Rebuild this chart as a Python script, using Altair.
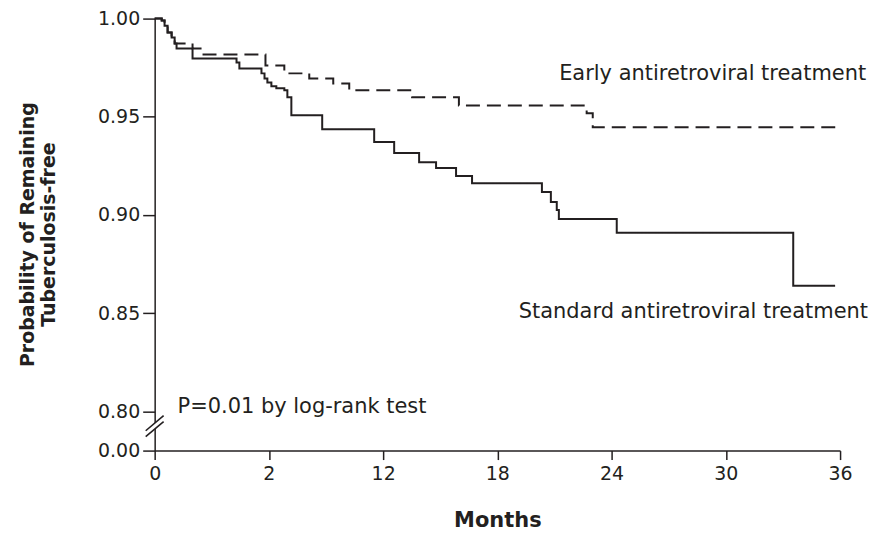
import altair as alt
import pandas as pd

# Kaplan-Meier step data (months, probability)
std_t = [0, 0.37, 0.52, 0.68, 0.89, 1.05, 1.15, 1.99, 4.30, 4.45, 5.61, 5.77, 5.92, 6.13, 6.39,
         6.81, 6.97, 7.18, 8.80, 11.53, 12.58, 13.89, 14.78, 15.83, 16.67, 20.34, 20.81, 21.12,
         21.23, 24.27, 33.54, 35.74]
std_s = [1.000, 0.999, 0.9964, 0.9929, 0.9904, 0.9873, 0.9848, 0.9797, 0.9777, 0.9746, 0.9721,
         0.9695, 0.9675, 0.9655, 0.9645, 0.9635, 0.9599, 0.9508, 0.9437, 0.9371, 0.9315, 0.9269,
         0.9239, 0.9198, 0.9162, 0.9117, 0.9066, 0.9025, 0.8980, 0.8909, 0.8640, 0.8640]

early_t = [0, 0.37, 0.52, 0.68, 0.89, 1.05, 1.99, 2.41, 5.82, 6.81, 8.12, 9.38, 10.22, 13.52,
           15.98, 22.69, 23.01, 36.0]
early_s = [1.0, 0.999, 0.9964, 0.9929, 0.9904, 0.9873, 0.9848, 0.9817, 0.9761, 0.9721, 0.9695,
           0.9670, 0.9635, 0.9599, 0.9558, 0.9518, 0.9447, 0.9447]

x_ticks = [0, 6, 12, 18, 24, 30, 36]
y_ticks = [0.78, 0.80, 0.85, 0.90, 0.95, 1.00]

# annotation texts and their anchor positions in data units
right_labels = ["Early antiretroviral treatment", "Standard antiretroviral treatment"]
right_t = [37.37, 37.47]
right_s = [0.9685, 0.8476]
left_labels = ["P=0.01 by log-rank test"]
left_t = [1.2]
left_s = [0.7993]

# axis-break strokes (data units)
brk_x1 = [-0.47, -0.47, -0.47]
brk_x2 = [0.47, 0.47, 0.47]
brk_y1 = [0.7886, 0.7901, 0.7871]
brk_y2 = [0.7962, 0.7978, 0.7947]
brk_kind = ["gap", "line", "line"]

rows = [{"t": t, "s": s, "g": "Standard"} for t, s in zip(std_t, std_s)]
rows += [{"t": t, "s": s, "g": "Early"} for t, s in zip(early_t, early_s)]
df = pd.DataFrame(rows)

FONT = "DejaVu Sans"
INK = "#231f20"

xscale = alt.Scale(domain=[0, 36], nice=False, zero=False)
yscale = alt.Scale(domain=[0.78, 1.0], nice=False, zero=False)

x_axis = alt.Axis(
    values=x_ticks, labelExpr="datum.value == 6 ? '2' : datum.label", labelFlush=False,
    labelFont=FONT, labelFontSize=19, labelColor=INK, labelPadding=5,
    tickSize=9, tickWidth=1.5, tickColor=INK, domainWidth=1.5, domainColor=INK,
    grid=False, title="Months", titleFont=FONT, titleFontSize=21, titleFontWeight="bold",
    titleColor=INK, titlePadding=26,
)
y_axis = alt.Axis(
    values=y_ticks, labelFlush=False,
    labelExpr="datum.value < 0.79 ? '0.00' : format(datum.value, '.2f')",
    labelFont=FONT, labelFontSize=19, labelColor=INK, labelPadding=3,
    tickSize=12, tickWidth=1.5, tickColor=INK, domainWidth=1.5, domainColor=INK,
    grid=False, title=["Probability of Remaining", "Tuberculosis-free"],
    titleFont=FONT, titleFontSize=19, titleFontWeight="bold", titleColor=INK,
    titleLineHeight=21, titleX=-117, titleY=216, titleAlign="center", titleBaseline="bottom",
)

lines = alt.Chart(df).mark_line(interpolate="step-after", strokeWidth=2, color=INK, clip=False).encode(
    x=alt.X("t:Q", scale=xscale, axis=x_axis),
    y=alt.Y("s:Q", scale=yscale, axis=y_axis),
    strokeDash=alt.StrokeDash("g:N", scale=alt.Scale(domain=["Early", "Standard"], range=[[14, 7], [1, 0]]), legend=None),
    detail="g:N",
)

rdf = pd.DataFrame({"t": right_t, "s": right_s, "label": right_labels})
ldf = pd.DataFrame({"t": left_t, "s": left_s, "label": left_labels})

rtext = alt.Chart(rdf).mark_text(align="right", baseline="alphabetic", font=FONT, fontSize=21, color=INK).encode(
    x=alt.X("t:Q", scale=xscale, axis=x_axis),
    y=alt.Y("s:Q", scale=yscale, axis=y_axis),
    text="label:N",
)
ltext = alt.Chart(ldf).mark_text(align="left", baseline="alphabetic", font=FONT, fontSize=21, color=INK).encode(
    x=alt.X("t:Q", scale=xscale, axis=x_axis),
    y=alt.Y("s:Q", scale=yscale, axis=y_axis),
    text="label:N",
)

bdf = pd.DataFrame({"x1": brk_x1, "x2": brk_x2, "y1": brk_y1, "y2": brk_y2, "kind": brk_kind})
brk = alt.Chart(bdf).mark_rule().encode(
    x=alt.X("x1:Q", scale=xscale, axis=x_axis),
    x2="x2:Q",
    y=alt.Y("y1:Q", scale=yscale, axis=y_axis),
    y2="y2:Q",
    color=alt.Color("kind:N", scale=alt.Scale(domain=["gap", "line"], range=["white", INK]), legend=None),
    strokeWidth=alt.StrokeWidth("kind:N", scale=alt.Scale(domain=["gap", "line"], range=[5, 1.6]), legend=None),
)

chart = alt.layer(lines, brk, rtext, ltext).properties(
    width=687, height=433,
    padding={"left": 147, "top": 10, "right": 30, "bottom": 86},
    autosize=alt.AutoSizeParams(type="none"),
).configure_view(stroke=None)

chart.save("out.html", embed_options={"renderer": "svg", "actions": False})
